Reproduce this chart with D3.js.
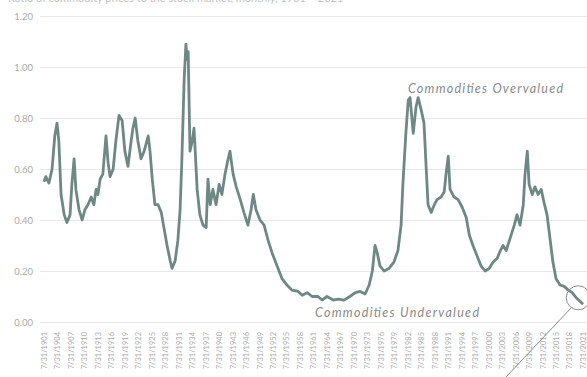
<!DOCTYPE html>
<html>
<head>
<meta charset="utf-8">
<script src="https://cdn.jsdelivr.net/npm/d3@7"></script>
<style>
  html, body { margin: 0; padding: 0; background: #fff; }
  svg { display: block; }
</style>
</head>
<body>
<svg id="chart" width="587" height="377"></svg>
<script>
// Commodities / equities valuation ratio, sampled as decimal years
const years = [
  1901.6,1902.0,1902.7,1903.4,1904.0,1904.5,1904.9,1905.4,1906.1,1906.7,
  1907.4,1907.8,1908.3,1908.7,1909.4,1910.1,1910.7,1911.4,1912.1,1912.7,
  1913.2,1913.6,1914.1,1914.7,1915.4,1915.9,1916.3,1917.0,1917.6,1918.3,
  1919.0,1919.6,1920.3,1921.0,1921.4,1921.9,1922.5,1923.2,1923.9,1924.8,
  1925.2,1925.7,1926.3,1927.0,1927.7,1928.3,1929.0,1929.7,1930.1,1930.8,
  1931.4,1931.9,1932.3,1932.8,1933.2,1933.4,1933.7,1934.1,1934.6,1935.0,
  1935.7,1936.3,1937.0,1937.7,1938.1,1938.6,1939.2,1939.9,1940.6,1941.2,
  1941.9,1942.6,1943.0,1943.7,1944.4,1945.3,1946.1,1947.0,1947.7,1948.2,
  1948.8,1949.7,1950.6,1951.5,1952.4,1953.5,1954.6,1955.7,1956.8,1958.2,
  1959.1,1960.2,1961.3,1962.6,1963.5,1964.6,1966.0,1967.1,1968.4,1969.7,
  1970.9,1972.0,1973.1,1974.0,1974.7,1975.3,1975.8,1976.4,1977.3,1978.4,
  1979.5,1980.4,1981.1,1981.5,1982.2,1982.7,1983.1,1983.8,1984.4,1984.9,
  1985.6,1986.2,1986.7,1987.1,1987.8,1988.5,1989.1,1990.0,1990.7,1991.1,
  1991.6,1992.0,1992.9,1993.8,1994.7,1995.6,1996.3,1997.1,1998.0,1998.9,
  1999.8,2000.7,2001.6,2002.5,2003.2,2003.8,2004.5,2005.4,2006.3,2006.9,
  2007.6,2008.3,2008.7,2009.2,2009.6,2010.3,2010.9,2011.6,2012.3,2012.9,
  2013.6,2014.3,2014.9,2015.6,2016.5,2017.4,2018.3,2019.2,2020.1,2021.0,
  2021.6
];
const ratio = [
  0.55,0.57,0.545,0.60,0.73,0.78,0.71,0.50,0.42,0.39,
  0.42,0.54,0.64,0.52,0.44,0.40,0.44,0.46,0.49,0.46,
  0.52,0.50,0.56,0.58,0.73,0.62,0.57,0.60,0.71,0.81,
  0.79,0.67,0.61,0.71,0.76,0.80,0.71,0.64,0.67,0.73,
  0.67,0.56,0.46,0.46,0.43,0.37,0.30,0.24,0.21,0.24,
  0.32,0.44,0.64,0.95,1.09,1.03,1.06,0.67,0.71,0.76,
  0.52,0.42,0.38,0.37,0.56,0.46,0.52,0.46,0.54,0.50,
  0.58,0.64,0.67,0.58,0.53,0.48,0.43,0.38,0.44,0.50,
  0.44,0.40,0.38,0.32,0.27,0.22,0.17,0.145,0.125,0.12,
  0.105,0.115,0.10,0.10,0.086,0.10,0.086,0.09,0.086,0.10,
  0.115,0.12,0.11,0.145,0.20,0.30,0.27,0.22,0.20,0.21,
  0.235,0.28,0.38,0.54,0.75,0.87,0.88,0.74,0.84,0.88,
  0.83,0.78,0.60,0.46,0.43,0.46,0.48,0.49,0.51,0.58,
  0.65,0.52,0.49,0.48,0.45,0.41,0.34,0.30,0.26,0.22,
  0.20,0.21,0.235,0.25,0.28,0.30,0.28,0.33,0.38,0.42,
  0.38,0.46,0.58,0.67,0.54,0.50,0.53,0.50,0.52,0.47,
  0.42,0.32,0.235,0.17,0.145,0.14,0.125,0.115,0.095,0.08,
  0.07
];

const yTicks = [0, 0.2, 0.4, 0.6, 0.8, 1.0, 1.2];
const tickYears = d3.range(1901, 2022, 3);
const tickLabels = tickYears.map(y => "7/31/" + y);

const titleText = "Ratio of commodity prices to the stock market, monthly, 1901 \u2013 2021";
const overText = "Commodities Overvalued";
const underText = "Commodities Undervalued";

const svg = d3.select("#chart");
const x = d3.scaleLinear().domain([1901.6, 2021.6]).range([44, 583]);
const y = d3.scaleLinear().domain([0, 1.2]).range([322, 16]);

const labelFont = "Lato, 'Open Sans', sans-serif";

// title, running off the top edge of the frame
svg.append("text")
  .attr("x", 8).attr("y", 2)
  .attr("font-family", labelFont)
  .attr("font-size", 11)
  .attr("fill", "#c2c2c2")
  .text(titleText);

// horizontal gridlines
svg.append("g")
  .selectAll("line")
  .data(yTicks)
  .join("line")
  .attr("x1", 40).attr("x2", 587)
  .attr("y1", d => y(d) + 0.5).attr("y2", d => y(d) + 0.5)
  .attr("stroke", "#e8e8e8")
  .attr("stroke-width", 1);

// y axis labels
svg.append("g")
  .selectAll("text")
  .data(yTicks)
  .join("text")
  .attr("x", 33)
  .attr("y", d => y(d) + 3.5)
  .attr("text-anchor", "end")
  .attr("font-family", labelFont)
  .attr("font-size", 9.5)
  .attr("fill", "#ababab")
  .text(d => d3.format(".2f")(d));

// rotated date labels along the bottom
svg.append("g")
  .selectAll("text")
  .data(tickYears)
  .join("text")
  .attr("transform", (d) => `translate(${x(d + 7/12) + 3},332) rotate(-90)`)
  .attr("text-anchor", "end")
  .attr("font-family", labelFont)
  .attr("font-size", 7.5)
  .attr("fill", "#ababab")
  .text((d, i) => tickLabels[i]);

// ratio line
const pts = years.map((yr, i) => [yr, ratio[i]]);
svg.append("path")
  .datum(pts)
  .attr("fill", "none")
  .attr("stroke", "#6e8883")
  .attr("stroke-width", 2.8)
  .attr("stroke-linejoin", "round")
  .attr("d", d3.line().x(d => x(d[0])).y(d => y(d[1])));

// annotations
svg.append("text")
  .attr("x", 408).attr("y", 93)
  .attr("font-family", labelFont)
  .attr("font-style", "italic")
  .attr("font-size", 12.5)
  .attr("textLength", 155)
  .attr("lengthAdjust", "spacing")
  .attr("fill", "#8a8a8a")
  .text(overText);

svg.append("text")
  .attr("x", 315).attr("y", 317)
  .attr("font-family", labelFont)
  .attr("font-style", "italic")
  .attr("font-size", 12.5)
  .attr("textLength", 164)
  .attr("lengthAdjust", "spacing")
  .attr("fill", "#8a8a8a")
  .text(underText);

// highlight the latest reading
const last = pts[pts.length - 3];
const cx = x(last[0]) + 2, cy = y(last[1]);
svg.append("line")
  .attr("x1", cx - 7).attr("y1", cy + 10)
  .attr("x2", cx - 75).attr("y2", 380)
  .attr("stroke", "#8a8a8a")
  .attr("stroke-width", 1);
svg.append("circle")
  .attr("cx", cx).attr("cy", cy)
  .attr("r", 12)
  .attr("fill", "none")
  .attr("stroke", "#8a8a8a")
  .attr("stroke-width", 1);
</script>
</body>
</html>
